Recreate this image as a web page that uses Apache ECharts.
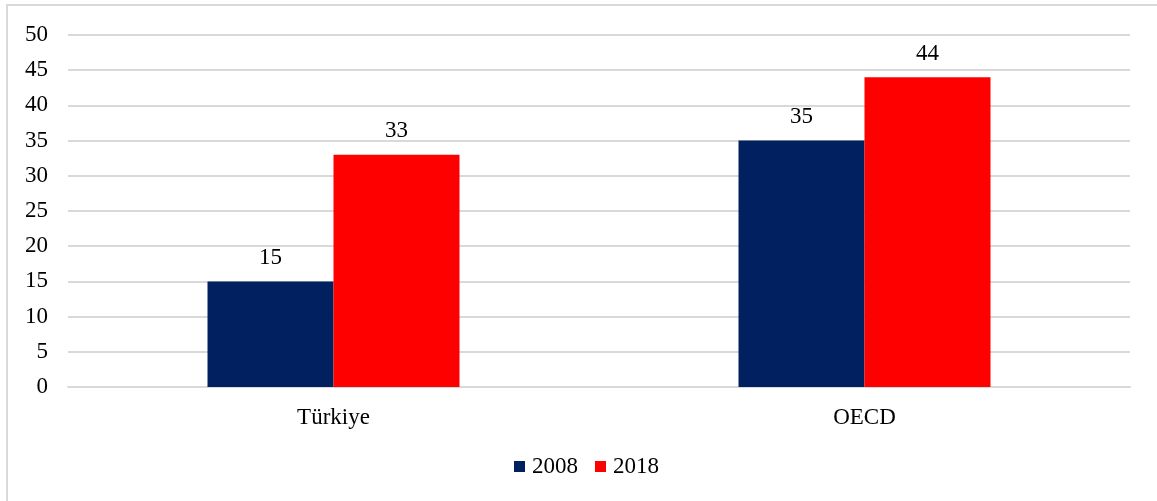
<!DOCTYPE html>
<html><head><meta charset="utf-8">
<script src="https://cdn.jsdelivr.net/npm/echarts@6/dist/echarts.min.js"></script>
<style>
html,body{margin:0;padding:0;background:#fff;overflow:hidden}
#frame{position:absolute;left:6px;top:4px;width:1160px;height:510px;border:2px solid #d9d9d9;box-sizing:border-box}
#c{position:absolute;left:0;top:0;width:1157px;height:501px}
</style></head>
<body>
<div id="frame"></div>
<div id="c"></div>
<script>
var categories = ['Türkiye', 'OECD'];
var seriesNames = ['2008', '2018'];
var values2008 = [15, 35];
var values2018 = [33, 44];
var yTicks = [0, 5, 10, 15, 20, 25, 30, 35, 40, 45, 50];

var font = '"Liberation Serif", "Times New Roman", serif';
var fs = 23;
var chart = echarts.init(document.getElementById('c'), null, {renderer: 'canvas'});
var labelStyle = {show: true, position: 'top', distance: 12, color: '#000', fontFamily: font, fontSize: fs};
chart.setOption({
  animation: false,
  textStyle: {fontFamily: font},
  grid: {left: 68, right: 27, top: 35, bottom: 114, containLabel: false},
  legend: {
    data: seriesNames, top: 455, left: 514, padding: 0, itemWidth: 11, itemHeight: 11, itemGap: 17,
    icon: 'rect',
    textStyle: {fontFamily: font, fontSize: fs, color: '#000', padding: [0, 0, 0, 2]}
  },
  xAxis: {
    type: 'category', data: categories,
    axisLine: {show: true, lineStyle: {color: '#d9d9d9', width: 2}},
    axisTick: {show: false},
    axisLabel: {fontFamily: font, fontSize: fs, color: '#000', margin: 19}
  },
  yAxis: {
    type: 'value', min: yTicks[0], max: yTicks[yTicks.length - 1], interval: 5,
    axisLine: {show: false}, axisTick: {show: false},
    axisLabel: {fontFamily: font, fontSize: fs, color: '#000', margin: 20},
    splitLine: {lineStyle: {color: '#d9d9d9', width: 2}}
  },
  series: [
    {name: seriesNames[0], type: 'bar', data: values2008, barWidth: 126, barGap: '0%',
     itemStyle: {color: '#002060'}, label: labelStyle},
    {name: seriesNames[1], type: 'bar', data: values2018, barWidth: 126, barGap: '0%',
     itemStyle: {color: '#ff0000'}, label: labelStyle}
  ]
});
</script>
</body></html>
